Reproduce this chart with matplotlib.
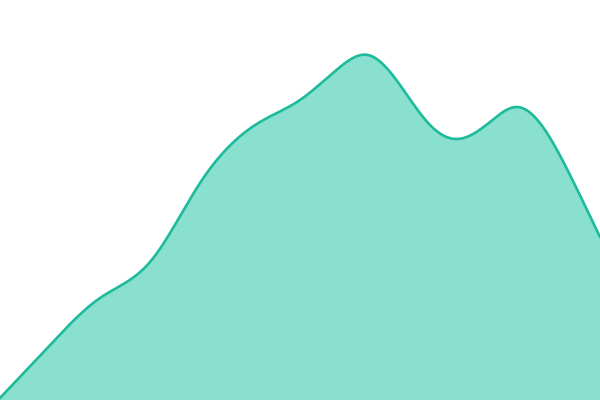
import numpy as np
import matplotlib
matplotlib.use("Agg")
import matplotlib.pyplot as plt

# ── Data ──────────────────────────────────────────────────────────────────────
xs = [0, 50, 100, 150, 200, 260, 300, 340, 368, 400, 430, 457, 490, 517, 545, 570, 600]
ys = [2, 55, 102, 138, 217, 278, 300, 333, 345, 315, 275, 261, 278, 293, 270, 225, 163]

LINE = "#1dbb9b"
FILL = "#8ae0cf"


def natural_spline(x, y, xn):
    """Natural cubic spline through (x, y), evaluated at xn."""
    x = np.asarray(x, float)
    y = np.asarray(y, float)
    n = len(x)
    h = np.diff(x)
    A = np.zeros((n, n))
    b = np.zeros(n)
    A[0, 0] = A[-1, -1] = 1.0
    for i in range(1, n - 1):
        A[i, i - 1] = h[i - 1]
        A[i, i] = 2 * (h[i - 1] + h[i])
        A[i, i + 1] = h[i]
        b[i] = 3 * ((y[i + 1] - y[i]) / h[i] - (y[i] - y[i - 1]) / h[i - 1])
    c = np.linalg.solve(A, b)
    bb = (y[1:] - y[:-1]) / h - h * (2 * c[:-1] + c[1:]) / 3
    d = (c[1:] - c[:-1]) / (3 * h)
    idx = np.clip(np.searchsorted(x, xn) - 1, 0, n - 2)
    t = xn - x[idx]
    return y[idx] + bb[idx] * t + c[idx] * t**2 + d[idx] * t**3


xf = np.linspace(xs[0], xs[-1], 1200)
yf = natural_spline(xs, ys, xf)

fig = plt.figure(figsize=(6, 4), dpi=100)
ax = fig.add_axes([0, 0, 1, 1])
ax.fill_between(xf, yf, 0, color=FILL, linewidth=0)
ax.plot(xf, yf, color=LINE, linewidth=1.9, solid_capstyle="round")
ax.set_xlim(0, 600)
ax.set_ylim(0, 400)
ax.axis("off")

fig.savefig("out.png", dpi=100)
